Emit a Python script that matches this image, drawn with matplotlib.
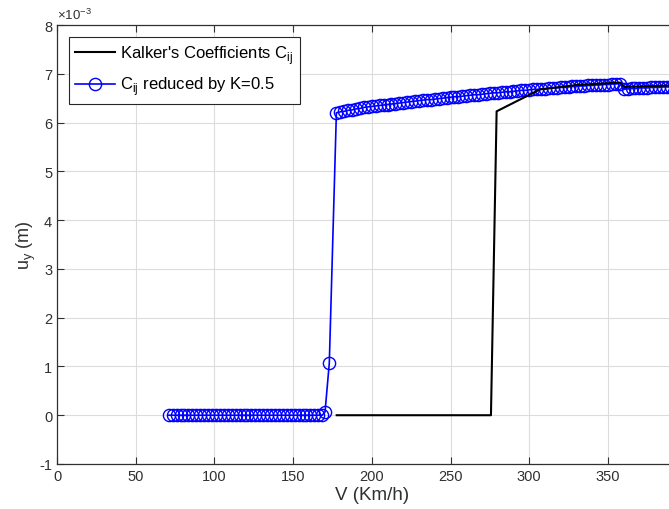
import numpy as np
import matplotlib
matplotlib.use("Agg")
import matplotlib.pyplot as plt
from matplotlib.ticker import FuncFormatter

# ==========================================================
# DATA (y in 1e-3 m)
# ==========================================================
v_kalker = [177.7, 275.7, 279.3, 306.9, 330.0, 358.0, 360.5, 380.0, 400.0]
u_kalker = [0.0, 0.0, 6.23, 6.68, 6.77, 6.82, 6.73, 6.75, 6.77]

v_red_low = [71.0, 73.5, 76.0, 78.5, 81.0, 83.5, 86.0, 88.5, 91.0, 93.5,
             96.0, 98.5, 101.0, 103.5, 106.0, 108.5, 111.0, 113.5, 116.0, 118.5,
             121.0, 123.5, 126.0, 128.5, 131.0, 133.5, 136.0, 138.5, 141.0, 143.5,
             146.0, 148.5, 151.0, 153.5, 156.0, 158.5, 161.0, 163.5, 166.0, 168.5,
             170.3, 173.0]
u_red_low = [0.0, 0.0, 0.0, 0.0, 0.0, 0.0, 0.0, 0.0, 0.0, 0.0,
             0.0, 0.0, 0.0, 0.0, 0.0, 0.0, 0.0, 0.0, 0.0, 0.0,
             0.0, 0.0, 0.0, 0.0, 0.0, 0.0, 0.0, 0.0, 0.0, 0.0,
             0.0, 0.0, 0.0, 0.0, 0.0, 0.0, 0.0, 0.0, 0.0, 0.0,
             0.07, 1.07]

v_red_high = [177.5, 180, 182.5, 185, 187.5, 190, 192.5, 195, 197.5, 200,
              202.5, 205, 207.5, 210, 212.5, 215, 217.5, 220, 222.5, 225,
              227.5, 230, 232.5, 235, 237.5, 240, 242.5, 245, 247.5, 250,
              252.5, 255, 257.5, 260, 262.5, 265, 267.5, 270, 272.5, 275,
              277.5, 280, 282.5, 285, 287.5, 290, 292.5, 295, 297.5, 300,
              302.5, 305, 307.5, 310, 312.5, 315, 317.5, 320, 322.5, 325,
              327.5, 330, 332.5, 335, 337.5, 340, 342.5, 345, 347.5, 350,
              352.5, 355, 357.5, 360, 362.5, 365, 367.5, 370, 372.5, 375,
              377.5, 380, 382.5, 385, 387.5, 390, 392.5, 395, 397.5, 400]
u_red_high = [6.20, 6.22, 6.23, 6.25, 6.26, 6.28, 6.29, 6.31, 6.32, 6.33,
              6.34, 6.35, 6.36, 6.37, 6.38, 6.39, 6.40, 6.41, 6.42, 6.43,
              6.44, 6.45, 6.46, 6.47, 6.47, 6.48, 6.49, 6.50, 6.51, 6.52,
              6.53, 6.53, 6.54, 6.55, 6.56, 6.57, 6.57, 6.58, 6.59, 6.60,
              6.61, 6.61, 6.62, 6.63, 6.63, 6.64, 6.65, 6.66, 6.66, 6.67,
              6.68, 6.68, 6.69, 6.69, 6.70, 6.71, 6.71, 6.72, 6.72, 6.73,
              6.74, 6.74, 6.75, 6.75, 6.76, 6.76, 6.77, 6.77, 6.78, 6.78,
              6.79, 6.79, 6.80, 6.69, 6.69, 6.70, 6.70, 6.71, 6.71, 6.71,
              6.72, 6.72, 6.72, 6.73, 6.73, 6.73, 6.74, 6.74, 6.74, 6.75]

v_red = v_red_low + v_red_high
u_red = np.array(u_red_low + u_red_high) * 1e-3

# ==========================================================
# PLOT
# ==========================================================
plt.rcParams["font.family"] = ["Liberation Sans", "DejaVu Sans"]
plt.rcParams["axes.unicode_minus"] = False
axcol = "#303030"

fig = plt.figure(figsize=(6.69, 5.10), dpi=100)
ax = fig.add_axes([57 / 669, 45 / 510, 629.6 / 669, 439 / 510])

ax.plot(v_kalker, np.array(u_kalker) * 1e-3, color="black", linewidth=1.5,
        label="Kalker's Coefficients C$_{\\mathregular{ij}}$", zorder=3)
ax.plot(v_red, u_red, color="#0000ff", linewidth=1.2, marker="o",
        markersize=8.8, markerfacecolor="none", markeredgewidth=1.0,
        label="C$_{\\mathregular{ij}}$ reduced by K=0.5", zorder=2)

ax.set_xlim(0, 400)
ax.set_ylim(-1e-3, 8e-3)
ax.set_xticks(np.arange(0, 351, 50))
ax.set_yticks(np.arange(-1, 9) * 1e-3)
ax.yaxis.set_major_formatter(FuncFormatter(lambda y, pos: "%d" % round(y * 1e3)))
ax.text(0.0, 1.006, "×10$^{\\mathregular{-3}}$", transform=ax.transAxes,
        fontsize=9.5, color=axcol, ha="left", va="bottom")

ax.grid(True, color="#dcdcdc", linewidth=0.8)
ax.set_axisbelow(True)
ax.tick_params(direction="in", length=5, colors=axcol, labelsize=10.5,
               top=True, right=True)
for s in ax.spines.values():
    s.set_color(axcol)
    s.set_linewidth(0.9)

ax.set_xlabel("V (Km/h)", fontsize=13.5, color=axcol, labelpad=2)
ax.set_ylabel("u$_{\\mathregular{y}}$ (m)", fontsize=13, color=axcol, labelpad=1)

leg = ax.legend(loc="upper left", fontsize=12, fancybox=False, framealpha=1,
                edgecolor="#262626", handlelength=2.4, borderaxespad=0.7,
                borderpad=0.4, labelspacing=0.5, handletextpad=0.3)
leg.get_frame().set_linewidth(0.8)

plt.savefig("out.png", dpi=100)
